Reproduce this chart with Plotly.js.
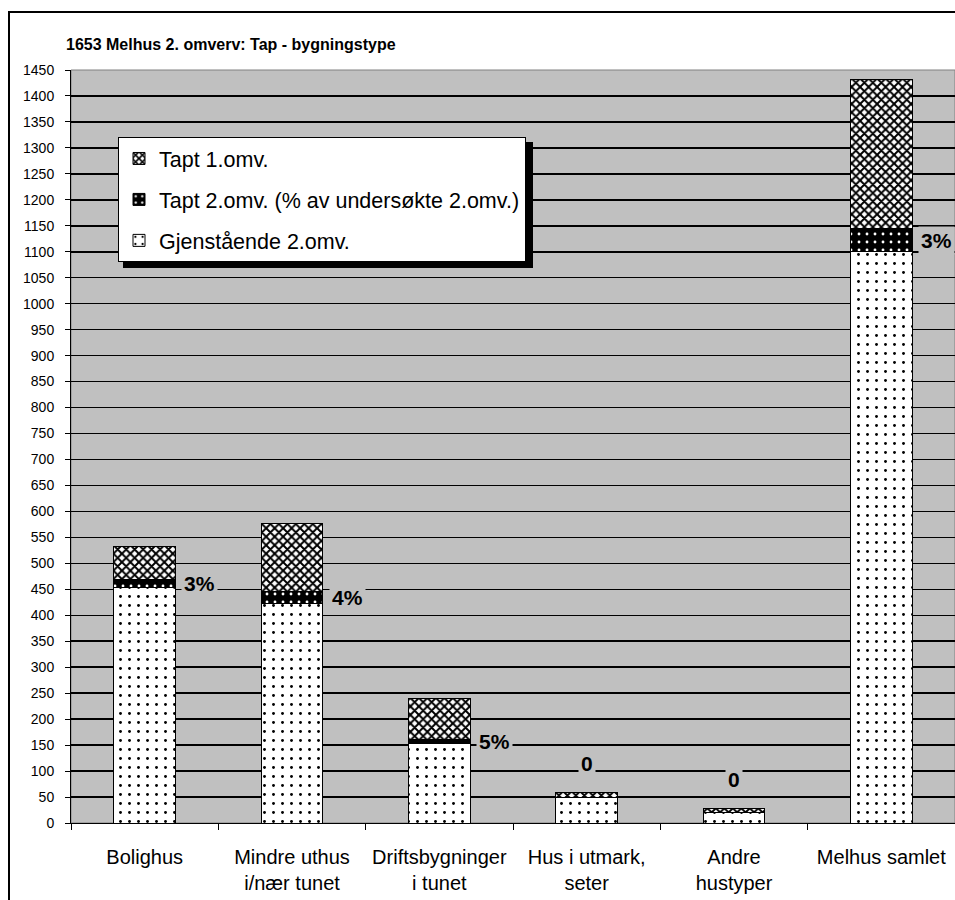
<!DOCTYPE html>
<html>
<head>
<meta charset="utf-8">
<script src="https://cdn.plot.ly/plotly-3.0.1.min.js"></script>
<style>
  html, body { margin: 0; padding: 0; background: #fff; }
  #wrap { position: relative; width: 955px; height: 900px; overflow: hidden; }
  #chart { position: absolute; left: 0; top: 0; width: 955px; height: 900px; }
  #frame { position: absolute; left: 8px; top: 11px; width: 1000px; height: 1000px;
           border-left: 2px solid #000; border-top: 2px solid #000; pointer-events: none; }
</style>
</head>
<body>
<div id="wrap">
  <div id="chart"></div>
  <div id="frame"></div>
</div>
<script>
// ---- data ----
const categories = [
  'Bolighus',
  'Mindre uthus<br>i/nær tunet',
  'Driftsbygninger<br>i tunet',
  'Hus i utmark,<br>seter',
  'Andre<br>hustyper',
  'Melhus samlet'
];
const gjenstaende = [453, 423, 153, 50, 20, 1100];
const tapt2 = [15, 22, 8, 0, 0, 44];
const tapt1 = [65, 131, 78, 8, 8, 288];
const tapt2Labels = ['3%', '4%', '5%', '0', '0', '3%'];
const seriesNames = ['Gjenstående 2.omv.', 'Tapt 2.omv. (% av undersøkte 2.omv.)', 'Tapt 1.omv.'];
const yTickVals = [];
for (let v = 0; v <= 1450; v += 50) yTickVals.push(v);

// ---- layout geometry (pixels) ----
const W = 955, H = 900;
const M = {l: 71, r: 0, t: 70, b: 77};
const PW = W - M.l - M.r, PH = H - M.t - M.b;
const px2x = x => (x - M.l) / PW;
const px2y = y => 1 - (y - M.t) / PH;

const FONT = 'Liberation Sans, Arial, sans-serif';
const barLine = {color: '#000', width: 1};

const traces = [
  {
    type: 'bar', name: seriesNames[0], x: categories, y: gjenstaende,
    legendgroup: 'g0', legendrank: 3,
    marker: {color: '#fff', line: barLine,
      pattern: {shape: '.', fgcolor: '#000', bgcolor: '#fff', size: 9, solidity: 0.08}},
    hoverinfo: 'skip'
  },
  {
    type: 'bar', name: seriesNames[1], x: categories, y: tapt2,
    legendgroup: 'g1', legendrank: 2,
    marker: {color: '#000', line: barLine,
      pattern: {shape: '.', fgcolor: '#fff', bgcolor: '#000', size: 8, solidity: 0.1}},
    hoverinfo: 'skip'
  },
  {
    type: 'bar', name: seriesNames[2], x: categories, y: tapt1,
    legendgroup: 'g2', legendrank: 1,
    marker: {color: '#000', line: barLine,
      pattern: {shape: 'x', fgcolor: '#000', bgcolor: '#fff', size: 6, solidity: 0.55}},
    hoverinfo: 'skip'
  }
];

const annotations = [];
categories.forEach((c, i) => {
  const lab = tapt2Labels[i];
  const common = {
    xref: 'x', yref: 'y', x: c, text: '<b>' + lab + '</b>', showarrow: false,
    xanchor: 'center', yanchor: 'middle',
    font: {family: FONT, size: 21, color: '#000'},
    bgcolor: '#c0c0c0', borderpad: 2
  };
  if (tapt2[i] > 0) {
    annotations.push(Object.assign({}, common, {y: gjenstaende[i] + tapt2[i] / 2, xshift: 55}));
  } else {
    annotations.push(Object.assign({}, common, {y: gjenstaende[i] + tapt2[i] + tapt1[i], yshift: 29}));
  }
});

const shapes = [
  // plot area border
  {type: 'rect', xref: 'paper', yref: 'paper', x0: 0, x1: 1, y0: 0, y1: 1,
   line: {color: '#808080', width: 1}, layer: 'below'},
  // legend shadow
  {type: 'rect', xref: 'paper', yref: 'paper',
   x0: px2x(123), x1: px2x(533), y0: px2y(268), y1: px2y(142),
   fillcolor: '#000', line: {width: 0}, layer: 'above'}
];

const layout = {
  width: W, height: H,
  margin: M,
  paper_bgcolor: '#fff',
  plot_bgcolor: '#c0c0c0',
  barmode: 'stack',
  bargap: 0.58,
  showlegend: true,
  font: {family: FONT, color: '#000'},
  title: {
    text: '<b>1653 Melhus 2. omverv: Tap - bygningstype</b>',
    font: {family: FONT, size: 16, color: '#000'},
    x: 66 / W, xanchor: 'left', xref: 'container',
    y: 1 - 44 / H, yanchor: 'middle', yref: 'container'
  },
  xaxis: {
    type: 'category',
    tickson: 'boundaries',
    ticks: 'outside', ticklen: 6, tickcolor: '#000', tickwidth: 1,
    showline: true, linecolor: '#000', linewidth: 1,
    showgrid: false,
    tickfont: {family: FONT, size: 20, color: '#000'},
    ticklabelstandoff: 16,
    fixedrange: true
  },
  yaxis: {
    range: [0, 1450],
    tickvals: yTickVals,
    ticks: 'outside', ticklen: 5, tickcolor: '#000', tickwidth: 1,
    showline: true, linecolor: '#000', linewidth: 1,
    showgrid: true, gridcolor: '#000', gridwidth: 1.5,
    zeroline: false,
    tickfont: {family: FONT, size: 14, color: '#000'},
    ticklabelstandoff: 8,
    fixedrange: true
  },
  legend: {
    x: px2x(118), y: px2y(137), xanchor: 'left', yanchor: 'top',
    xref: 'paper', yref: 'paper',
    bgcolor: '#fff', bordercolor: '#000', borderwidth: 1,
    font: {family: FONT, size: 21.5, color: '#000'},
    traceorder: 'grouped',
    tracegroupgap: 10,
    itemwidth: 30
  },
  annotations: annotations,
  shapes: shapes
};

Plotly.newPlot('chart', traces, layout, {displayModeBar: false, staticPlot: true});
</script>
</body>
</html>
